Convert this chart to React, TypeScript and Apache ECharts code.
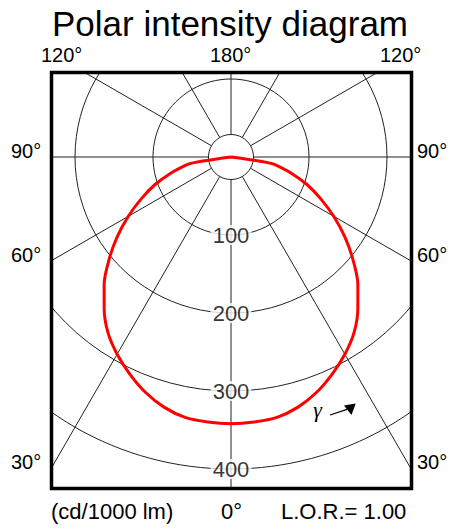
import React, { useEffect, useRef } from 'react';
import * as echarts from 'echarts';

// Luminous intensity (cd/1000 lm) versus gamma angle (degrees from nadir), symmetric
const gammaDeg = [0, 5, 10, 15, 20, 25, 30, 35, 40, 45, 50, 55, 60, 65, 70, 75, 80, 81, 81.8, 82.3, 82.5];
const intensity = [342, 341, 339, 332, 321, 307, 292, 275, 253, 230, 204, 178, 152, 127, 104, 80, 58, 52, 40, 15, 0];

const radiusTicks = [100, 200, 300, 400];
const topAngleLabels = ['120°', '180°', '120°'];
const sideAngleLabels = ['90°', '60°', '30°'];
const bottomAngleLabel = '0°';
const titleText = 'Polar intensity diagram';
const unitText = '(cd/1000 lm)';
const lorText = 'L.O.R.= 1.00';
const gammaSymbol = 'γ';

const FONT = '"Liberation Sans", Arial, sans-serif';

export default function App() {
  const ref = useRef<HTMLDivElement>(null);
  useEffect(() => {
    document.body.style.margin = '0';
    const chart = echarts.init(ref.current!, null, { renderer: 'svg' });

    const left = gammaDeg.map((g, i) => [intensity[i], g]).reverse();
    const right = gammaDeg.slice(1).map((g, i) => [intensity[i + 1], 360 - g]);
    const curve = [...left, ...right];

    const center = [231, 157];
    const gridLine = { color: '#222', width: 1 };

    const textEl = (text: string, x: number, y: number, size: number, align = 'left') => ({
      type: 'text',
      x,
      y,
      z: 30,
      style: {
        text,
        fontSize: size,
        fontFamily: FONT,
        fill: '#000',
        align,
        verticalAlign: 'middle',
      },
    });

    const sideY = [151, 254.5, 461.5];

    chart.setOption({
      animation: false,
      backgroundColor: '#fff',
      title: {
        text: titleText,
        left: 'center',
        top: 6,
        padding: 0,
        z: 30,
        textStyle: { fontSize: 35, fontWeight: 'normal', fontFamily: FONT, color: '#000' },
      },
      polar: [
        { center, radius: 390 },
        { center, radius: [22.5, 390] },
      ],
      angleAxis: [
        {
          polarIndex: 0, type: 'value', min: 0, max: 360, interval: 30, startAngle: 270, clockwise: true,
          axisLine: { show: false }, axisTick: { show: false }, axisLabel: { show: false },
          splitLine: { show: false }, z: 1,
        },
        {
          polarIndex: 1, type: 'value', min: 0, max: 360, interval: 30, startAngle: 270, clockwise: true,
          axisLine: { show: true, lineStyle: gridLine }, axisTick: { show: false }, axisLabel: { show: false },
          splitLine: { show: true, lineStyle: gridLine }, z: 1,
        },
      ],
      radiusAxis: [
        {
          polarIndex: 0, type: 'value', min: 0, max: 500, interval: 100,
          axisLine: { show: false }, axisTick: { show: false }, axisLabel: { show: false },
          splitLine: { show: true, lineStyle: gridLine }, z: 1,
        },
        {
          polarIndex: 1, type: 'value', min: 0, max: 500, interval: 100,
          axisLine: { show: false }, axisTick: { show: false }, axisLabel: { show: false },
          splitLine: { show: false }, z: 1,
        },
      ],
      series: [
        {
          type: 'line', coordinateSystem: 'polar', polarIndex: 0, data: curve,
          symbol: 'none', showSymbol: false, smooth: 0.25, silent: true,
          lineStyle: { color: '#ff0000', width: 3, join: 'round' }, z: 5,
        },
        {
          type: 'scatter', coordinateSystem: 'polar', polarIndex: 0,
          data: radiusTicks.map((v) => [v, 0]), symbolSize: 1, silent: true,
          itemStyle: { color: 'rgba(0,0,0,0)' },
          label: {
            show: true, position: 'inside', formatter: (p: any) => String(p.value[0]),
            fontSize: 22, fontFamily: FONT, color: '#000', backgroundColor: '#fff',
            padding: [0, 2], lineHeight: 20,
          },
          z: 6,
        },
      ],
      graphic: [
        { type: 'rect', z: 20, shape: { x: 0, y: 0, width: 460, height: 72.5 }, style: { fill: '#fff' } },
        { type: 'rect', z: 20, shape: { x: 0, y: 488.5, width: 460, height: 41 }, style: { fill: '#fff' } },
        { type: 'rect', z: 20, shape: { x: 0, y: 0, width: 51.5, height: 529 }, style: { fill: '#fff' } },
        { type: 'rect', z: 20, shape: { x: 411.5, y: 0, width: 49, height: 529 }, style: { fill: '#fff' } },
        {
          type: 'rect', z: 21, shape: { x: 51.5, y: 72.5, width: 360, height: 416 },
          style: { fill: 'none', stroke: '#000', lineWidth: 3.5 },
        },
        textEl(topAngleLabels[0], 41, 55, 20),
        textEl(topAngleLabels[1], 210, 55, 20),
        textEl(topAngleLabels[2], 380, 55, 20),
        ...sideAngleLabels.map((t, i) => textEl(t, 11, sideY[i], 20)),
        ...sideAngleLabels.map((t, i) => textEl(t, 417, sideY[i], 20)),
        textEl(bottomAngleLabel, 221, 511, 22),
        textEl(unitText, 51, 511, 22),
        textEl(lorText, 281, 511, 22),
        {
          type: 'text', x: 317.5, y: 409, z: 30,
          style: {
            text: gammaSymbol, fontSize: 22, fontFamily: '"Liberation Serif", "DejaVu Serif", serif',
            fontStyle: 'italic', fill: '#000', align: 'center', verticalAlign: 'middle',
          },
        },
        {
          type: 'line', z: 30, shape: { x1: 330, y1: 415, x2: 347, y2: 409.3 },
          style: { stroke: '#000', lineWidth: 1.3 },
        },
        {
          type: 'polygon', z: 30,
          shape: { points: [[355.7, 403.5], [344, 405.5], [351.5, 415]] },
          style: { fill: '#000' },
        },
      ],
    });
    return () => chart.dispose();
  }, []);
  return <div ref={ref} style={{ width: 460, height: 529 }} />;
}
